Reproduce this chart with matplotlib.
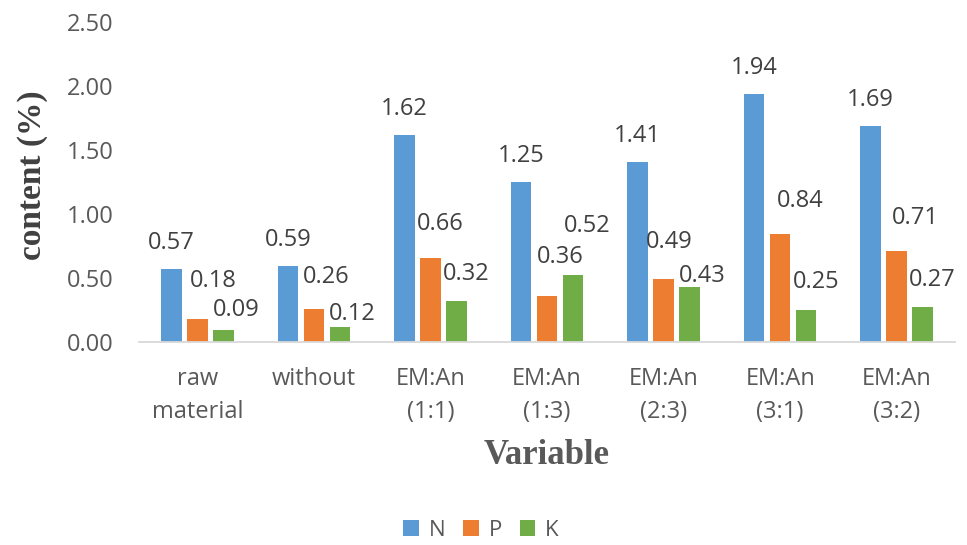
import matplotlib
matplotlib.use("Agg")
import matplotlib.pyplot as plt
import numpy as np

categories = ["raw\nmaterial", "without", "EM:An\n(1:1)", "EM:An\n(1:3)", "EM:An\n(2:3)", "EM:An\n(3:1)", "EM:An\n(3:2)"]
N_vals = [0.57, 0.59, 1.62, 1.25, 1.41, 1.94, 1.69]
P_vals = [0.18, 0.26, 0.66, 0.36, 0.49, 0.84, 0.71]
K_vals = [0.09, 0.12, 0.32, 0.52, 0.43, 0.25, 0.27]
yticks = [0.0, 0.5, 1.0, 1.5, 2.0, 2.5]

# label placement offsets (pixels), layout only
N_off = [(0, 26)] * 7
P_off = [(16, 38), (12, 32), (9.5, 33.5), (13, 39), (6, 37), (20, 33), (19, 33)]
K_off = [(13, 20.5), (12, 12.6), (9.5, 27), (14, 49), (13, 10.5), (10, 28), (10, 27)]

colors = ["#5B9BD5", "#ED7D31", "#70AD47"]
gray = "#595959"
font = "Open Sans"

fig = plt.figure(figsize=(9.67, 5.45), dpi=100)
ax = fig.add_axes([139/967, 1-342/545, (955-139)/967, (342-22)/545])

x = np.arange(len(categories))
w = 0.176
step = 0.223
series = [("N", N_vals, N_off), ("P", P_vals, P_off), ("K", K_vals, K_off)]
for i, (name, vals, offs) in enumerate(series):
    pos = x + (i - 1) * step
    ax.bar(pos, vals, width=w, color=colors[i], label=name, zorder=2)
    for xp, v, (dx, dy) in zip(pos, vals, offs):
        ax.annotate(f"{v:.2f}", (xp, v), xytext=(dx, dy), textcoords="offset pixels",
                    ha="center", va="center", fontsize=17, color="#404040", family=font)

ax.set_xlim(-0.5, len(categories) - 0.5)
ax.set_ylim(0, 2.5)
ax.set_yticks(yticks)
ax.set_yticklabels([f"{t:.2f}" for t in yticks], fontsize=17, color=gray, family=font)
ax.set_xticks(x)
ax.set_xticklabels(categories, fontsize=17, color=gray, family=font, linespacing=1.5)
ax.tick_params(axis="y", length=0, pad=18)
ax.tick_params(axis="x", length=0, pad=18)
for s in ["top", "right", "left"]:
    ax.spines[s].set_visible(False)
ax.spines["bottom"].set_color("#D9D9D9")
ax.spines["bottom"].set_linewidth(1.3)

fig.text(33/967, 1-175/545, "content (%)", rotation=90, ha="center", va="center",
         fontsize=24, fontweight="bold", family="Liberation Serif", color="#404040")
fig.text(547/967, 1-455/545, "Variable", ha="center", va="center",
         fontsize=25, fontweight="bold", family="Liberation Serif", color=gray)

leg = fig.legend(loc="center", bbox_to_anchor=(481/967, 1-530/545), ncol=3, frameon=False,
                 handlelength=0.7, handleheight=0.7, handletextpad=0.45, columnspacing=0.8,
                 prop={"family": font, "size": 16})
for t in leg.get_texts():
    t.set_color(gray)

fig.savefig("out.png", dpi=100)
